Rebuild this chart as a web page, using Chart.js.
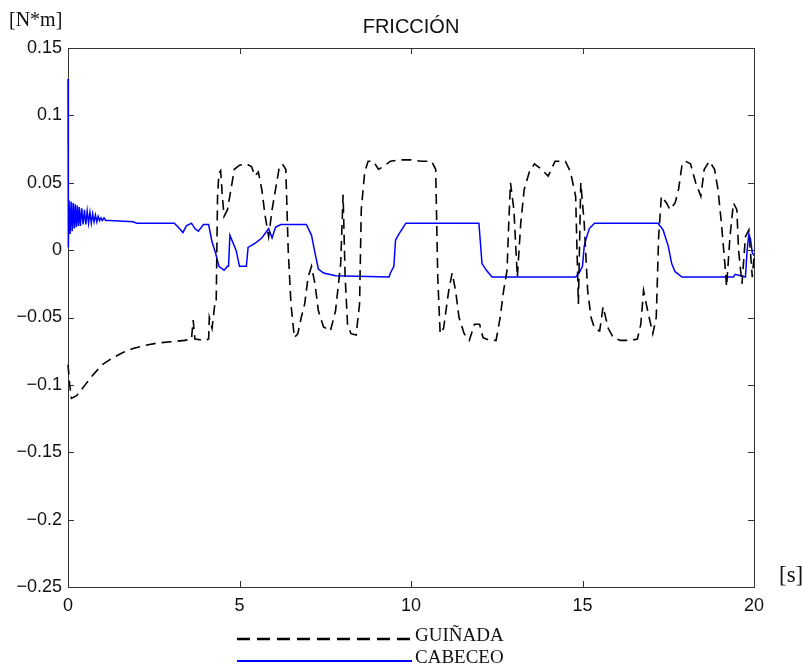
<!DOCTYPE html>
<html lang="es">
<head>
    <meta charset="UTF-8">
    <title>Fricción</title>
    <script src="https://cdn.jsdelivr.net/npm/chart.js"></script>
    <style>
        html, body { margin: 0; padding: 0; background: #fff; }
        .chart-box { width: 802px; height: 665px; position: relative; }
    </style>
</head>
<body>
    <div class="chart-box">
        <canvas id="frictionChart"></canvas>
    </div>

    <script>
// ---- data ----
const xTicks = [0, 5, 10, 15, 20];
const yTicks = [-0.25, -0.2, -0.15, -0.1, -0.05, 0, 0.05, 0.1, 0.15];

// GUIÑADA (dashed black)
const tGuinada = [0.00, 0.05, 0.10, 0.25, 0.50, 0.75, 1.00, 1.30, 1.60, 1.90, 2.20, 2.60, 3.00, 3.40, 3.60, 3.65, 3.70, 4.00, 4.10, 4.12,
    4.20, 4.28, 4.32, 4.36, 4.40, 4.45, 4.50, 4.55, 4.65, 4.75, 4.85, 5.00, 5.20, 5.35, 5.45, 5.55, 5.65, 5.75, 5.85, 5.95,
    6.05, 6.15, 6.25, 6.35, 6.42, 6.50, 6.60, 6.70, 6.80, 6.90, 7.00, 7.10, 7.20, 7.30, 7.45, 7.65, 7.80, 7.95, 8.02, 8.08,
    8.15, 8.25, 8.40, 8.50, 8.55, 8.65, 8.75, 8.90, 9.05, 9.20, 9.40, 9.70, 10.00, 10.30, 10.60, 10.72, 10.78, 10.85, 10.95, 11.10,
    11.20, 11.30, 11.40, 11.55, 11.70, 11.85, 12.00, 12.10, 12.30, 12.48, 12.60, 12.70, 12.80, 12.85, 12.90, 13.00, 13.10, 13.20, 13.30, 13.45,
    13.60, 13.80, 14.00, 14.20, 14.50, 14.65, 14.80, 14.88, 14.95, 15.05, 15.15, 15.25, 15.35, 15.50, 15.60, 15.75, 15.90, 16.10, 16.40, 16.60,
    16.70, 16.78, 16.90, 17.05, 17.15, 17.22, 17.30, 17.45, 17.55, 17.70, 17.80, 17.90, 18.00, 18.15, 18.30, 18.45, 18.55, 18.70, 18.85, 18.95,
    19.05, 19.15, 19.20, 19.30, 19.40, 19.50, 19.55, 19.65, 19.75, 19.85, 19.95, 20.00];
const vGuinada = [-0.085, -0.100, -0.110, -0.108, -0.100, -0.092, -0.085, -0.080, -0.076, -0.073, -0.071, -0.069, -0.068, -0.067, -0.066, -0.052, -0.066, -0.067, -0.066, -0.050,
    -0.058, -0.040, -0.040, 0.040, 0.057, 0.059, 0.040, 0.025, 0.030, 0.045, 0.060, 0.063, 0.064, 0.062, 0.055, 0.058, 0.045, 0.025, 0.010, 0.030,
    0.045, 0.060, 0.064, 0.060, 0.000, -0.040, -0.065, -0.062, -0.050, -0.040, -0.020, -0.012, -0.025, -0.045, -0.057, -0.060, -0.045, -0.010, 0.041, -0.020,
    -0.055, -0.062, -0.063, -0.040, 0.030, 0.058, 0.066, 0.066, 0.060, 0.062, 0.066, 0.067, 0.067, 0.066, 0.066, 0.060, -0.020, -0.062, -0.058, -0.030,
    -0.017, -0.030, -0.050, -0.062, -0.067, -0.055, -0.055, -0.065, -0.067, -0.067, -0.050, -0.030, -0.015, 0.020, 0.050, 0.030, -0.020, 0.020, 0.045, 0.058,
    0.064, 0.060, 0.055, 0.066, 0.066, 0.058, 0.040, -0.040, 0.050, 0.020, -0.030, -0.050, -0.058, -0.060, -0.042, -0.058, -0.065, -0.067, -0.067, -0.066,
    -0.055, -0.030, -0.045, -0.062, -0.050, 0.010, 0.040, 0.035, 0.030, 0.035, 0.045, 0.063, 0.066, 0.064, 0.050, 0.040, 0.060, 0.066, 0.060, 0.045,
    0.020, -0.010, -0.027, 0.010, 0.035, 0.030, 0.000, -0.025, 0.010, 0.015, -0.020, -0.005];

// CABECEO (solid blue)
const tCabeceo = [0.00, 0.01, 0.03, 0.06, 0.09, 0.12, 0.15, 0.18, 0.21, 0.24, 0.27, 0.30, 0.33, 0.36, 0.40, 0.44, 0.48, 0.52, 0.56, 0.60,
    0.64, 0.68, 0.72, 0.76, 0.80, 0.84, 0.88, 0.92, 0.96, 1.00, 1.05, 1.10, 1.20, 1.90, 2.00, 3.10, 3.25, 3.35, 3.45, 3.60,
    3.70, 3.80, 3.95, 4.10, 4.20, 4.30, 4.40, 4.55, 4.65, 4.68, 4.72, 4.80, 4.90, 5.00, 5.20, 5.25, 5.45, 5.65, 5.85, 5.95,
    6.05, 6.20, 6.95, 7.10, 7.20, 7.30, 7.45, 7.80, 9.36, 9.40, 9.50, 9.55, 9.65, 9.75, 9.85, 11.98, 12.07, 12.20, 12.36, 14.80,
    14.90, 15.00, 15.05, 15.10, 15.20, 15.35, 17.20, 17.35, 17.50, 17.60, 17.70, 17.90, 19.40, 19.45, 19.75, 19.80, 19.85, 19.90, 19.95, 20.00];
const vCabeceo = [0.127, 0.002, 0.037, 0.012, 0.036, 0.014, 0.035, 0.016, 0.034, 0.017, 0.033, 0.018, 0.032, 0.018, 0.031, 0.019, 0.030, 0.019, 0.029, 0.020,
    0.028, 0.020, 0.027, 0.021, 0.026, 0.021, 0.025, 0.022, 0.024, 0.022, 0.024, 0.022, 0.022, 0.021, 0.020, 0.020, 0.016, 0.013, 0.018, 0.020,
    0.016, 0.014, 0.019, 0.019, 0.006, -0.002, -0.012, -0.015, -0.012, -0.012, 0.011, 0.006, 0.000, -0.012, -0.012, 0.002, 0.005, 0.009, 0.016, 0.009,
    0.017, 0.019, 0.019, 0.011, -0.002, -0.014, -0.017, -0.019, -0.020, -0.017, -0.012, 0.0075, 0.012, 0.016, 0.020, 0.020, -0.010, -0.015, -0.020, -0.020,
    -0.017, -0.012, 0.003, 0.008, 0.016, 0.020, 0.020, 0.015, 0.003, -0.010, -0.016, -0.020, -0.020, -0.018, -0.020, 0.000, 0.012, 0.008, -0.002, -0.004];

const toPoints = (ts, vs) => ts.map((t, i) => ({ x: t, y: vs[i] }));

const sans = "'Liberation Sans', Arial, sans-serif";
const serif = "'Liberation Serif', 'Times New Roman', serif";

// box, inward ticks on all four sides, titles and the legend under the axis
const matlabFrame = {
    id: 'matlabFrame',
    beforeDatasetsDraw(chart) {
        const { ctx, chartArea: a, scales } = chart;
        const tick = 6;
        ctx.save();
        ctx.strokeStyle = '#333';
        ctx.lineWidth = 1;
        ctx.strokeRect(a.left + 0.5, a.top + 0.5, a.right - a.left, a.bottom - a.top);
        ctx.beginPath();
        xTicks.forEach(v => {
            const x = Math.round(scales.x.getPixelForValue(v)) + 0.5;
            ctx.moveTo(x, a.bottom); ctx.lineTo(x, a.bottom - tick);
            ctx.moveTo(x, a.top); ctx.lineTo(x, a.top + tick);
        });
        yTicks.forEach(v => {
            const y = Math.round(scales.y.getPixelForValue(v)) + 0.5;
            ctx.moveTo(a.left, y); ctx.lineTo(a.left + tick, y);
            ctx.moveTo(a.right, y); ctx.lineTo(a.right - tick, y);
        });
        ctx.stroke();
        ctx.restore();
    },
    afterDraw(chart) {
        const { ctx, chartArea: a } = chart;
        ctx.save();
        ctx.fillStyle = '#111';
        ctx.textBaseline = 'middle';
        ctx.textAlign = 'center';
        ctx.font = '20px ' + sans;
        ctx.fillText('FRICCIÓN', (a.left + a.right) / 2, 27);

        ctx.textAlign = 'left';
        ctx.font = '20px ' + serif;
        ctx.fillText('[N*m]', 9, 21);
        ctx.font = '23px ' + serif;
        ctx.fillText('[s]', 779, 576);

        // legend
        const lx0 = 237, lx1 = 412;
        ctx.lineWidth = 2.5;
        ctx.strokeStyle = '#000';
        ctx.setLineDash([13, 7]);
        ctx.beginPath(); ctx.moveTo(lx0, 639); ctx.lineTo(lx1, 639); ctx.stroke();
        ctx.setLineDash([]);
        ctx.strokeStyle = '#0000ff';
        ctx.lineWidth = 2;
        ctx.beginPath(); ctx.moveTo(lx0, 661); ctx.lineTo(lx1, 661); ctx.stroke();
        ctx.font = '19px ' + serif;
        ctx.fillStyle = '#111';
        ctx.textBaseline = 'alphabetic';
        ctx.fillText('GUIÑADA', 415, 641);
        ctx.fillText('CABECEO', 415, 663);
        ctx.restore();
    }
};

const ctx = document.getElementById('frictionChart').getContext('2d');
new Chart(ctx, {
    type: 'line',
    data: {
        datasets: [{
            label: 'GUIÑADA',
            data: toPoints(tGuinada, vGuinada),
            borderColor: '#000',
            borderWidth: 1.6,
            borderDash: [10, 6],
            pointRadius: 0,
            tension: 0,
            clip: 2
        }, {
            label: 'CABECEO',
            data: toPoints(tCabeceo, vCabeceo),
            borderColor: '#0000ff',
            borderWidth: 1.5,
            pointRadius: 0,
            tension: 0,
            clip: 2
        }]
    },
    options: {
        responsive: true,
        maintainAspectRatio: false,
        animation: false,
        events: [],
        layout: { padding: { top: 48, right: 48, left: 0, bottom: 0 } },
        plugins: {
            legend: { display: false },
            tooltip: { enabled: false }
        },
        scales: {
            x: {
                type: 'linear',
                min: 0,
                max: 20,
                afterBuildTicks: s => { s.ticks = xTicks.map(v => ({ value: v })); },
                afterFit: s => { s.height = 78; },
                grid: { display: false, drawTicks: false },
                border: { display: false },
                ticks: {
                    color: '#111',
                    padding: 8,
                    maxRotation: 0,
                    font: { family: sans, size: 18 },
                    callback: v => String(v)
                }
            },
            y: {
                type: 'linear',
                min: -0.25,
                max: 0.15,
                afterBuildTicks: s => { s.ticks = yTicks.map(v => ({ value: v })); },
                afterFit: s => { s.width = 68; },
                grid: { display: false, drawTicks: false },
                border: { display: false },
                ticks: {
                    color: '#111',
                    padding: 6,
                    font: { family: sans, size: 18 },
                    callback: v => String(Math.round(v * 100) / 100).replace('-', '\u2212')
                }
            }
        }
    },
    plugins: [matlabFrame]
});
    </script>
</body>
</html>
